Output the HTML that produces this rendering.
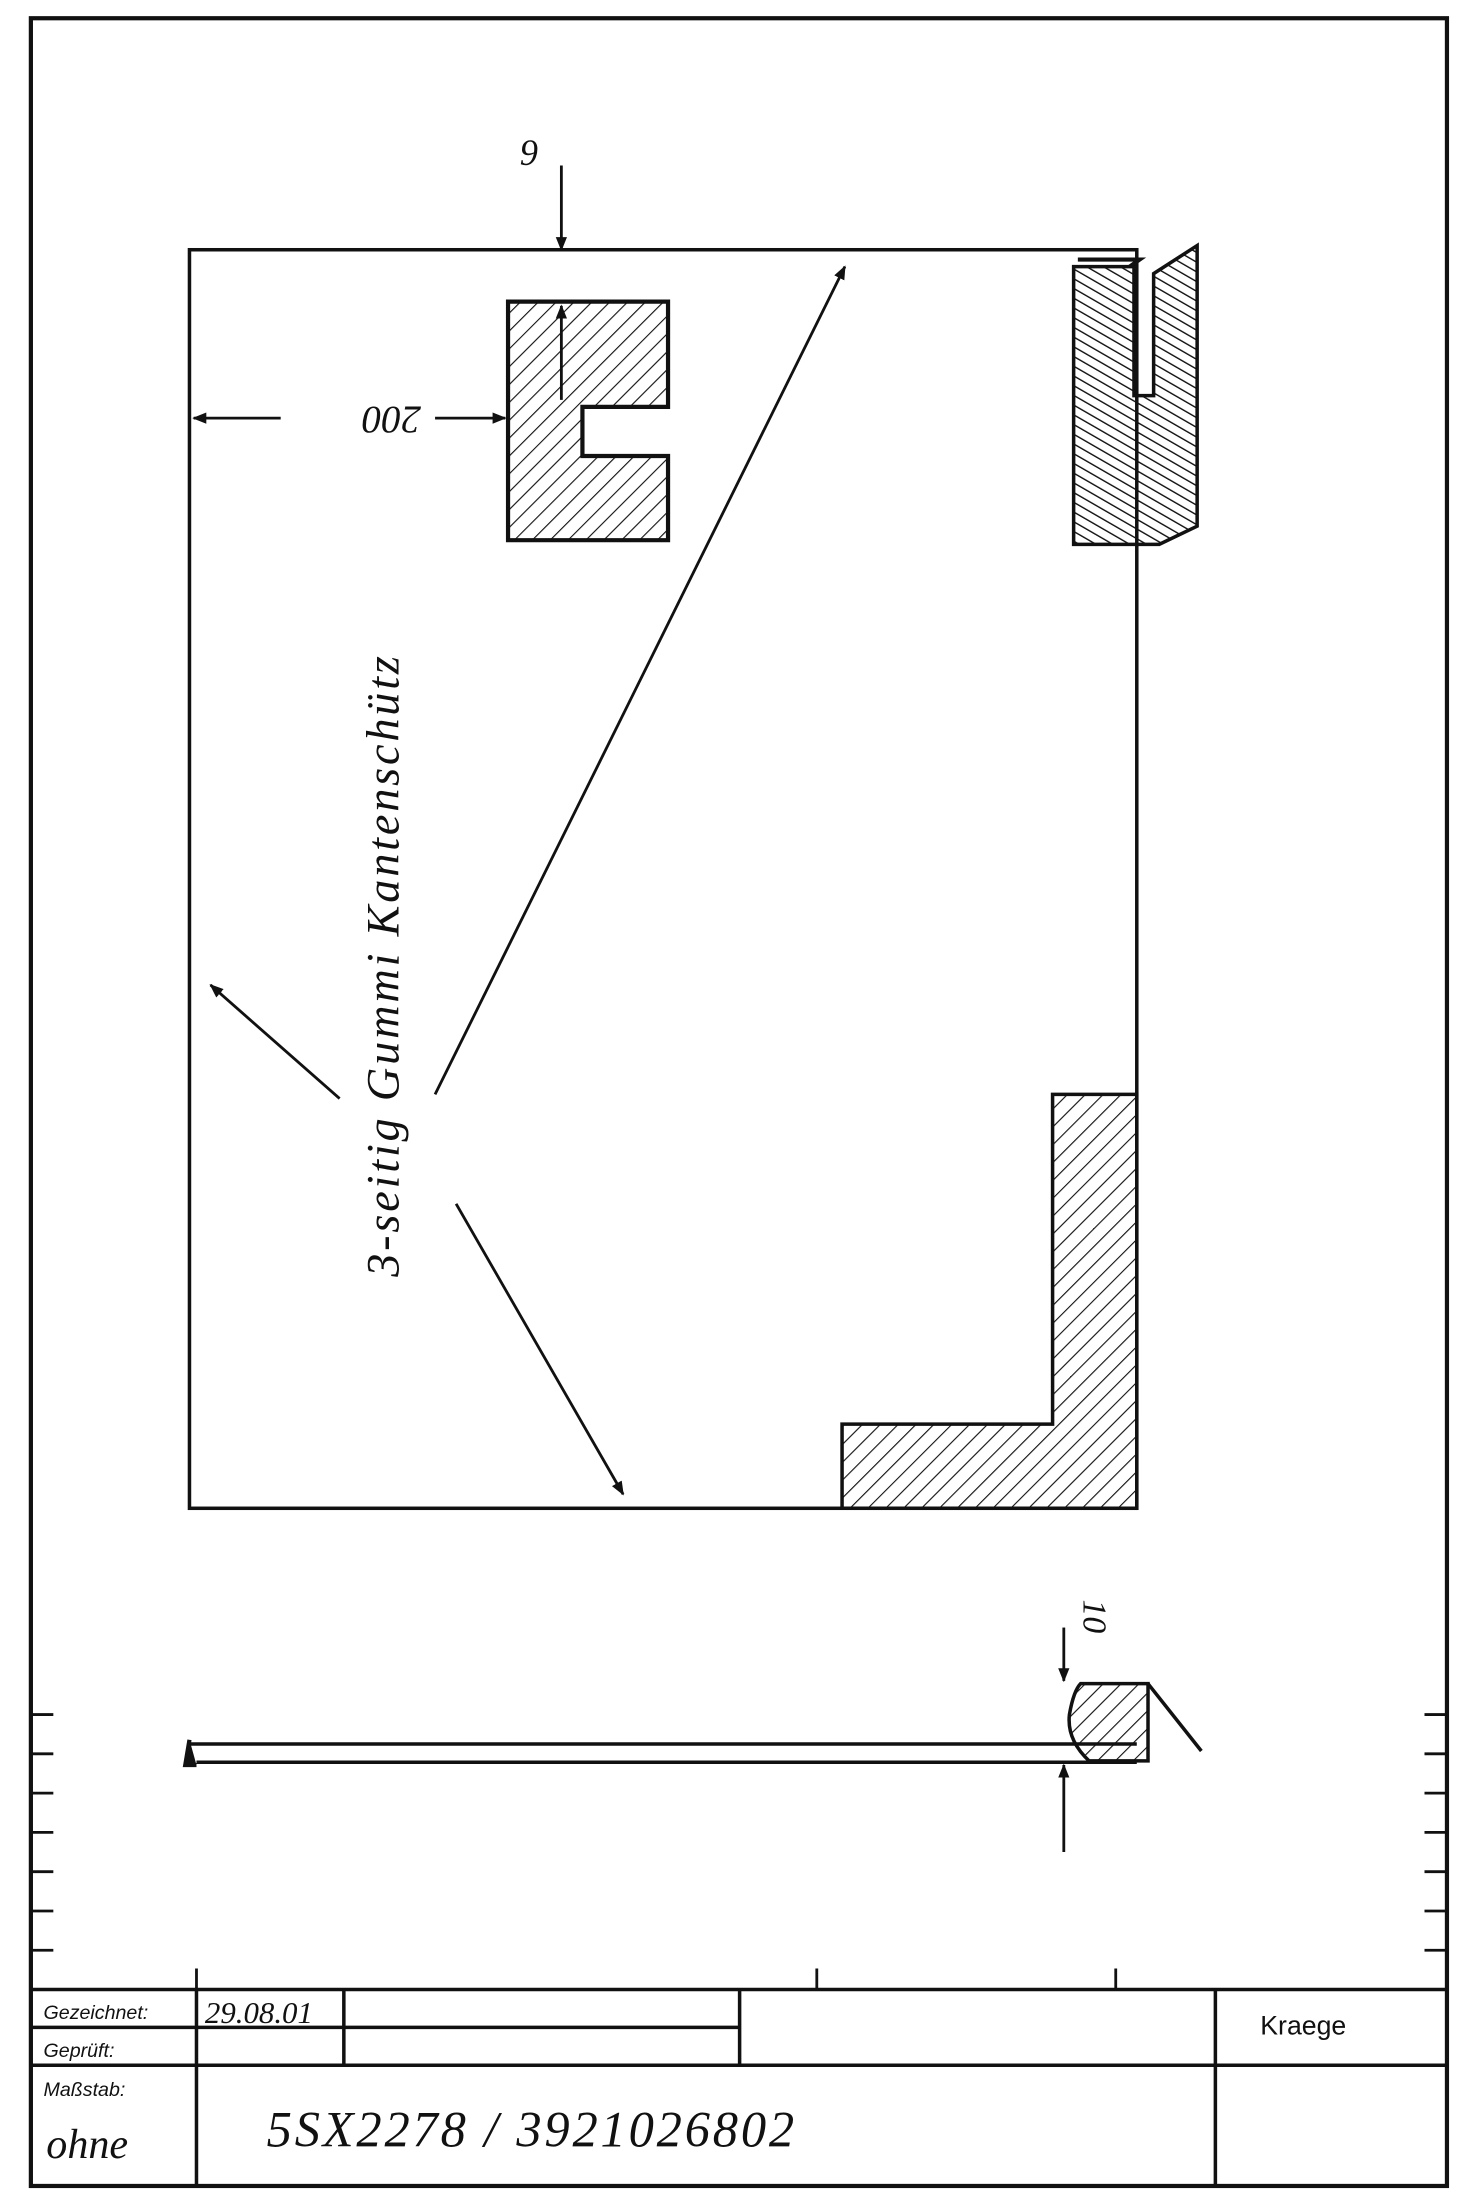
<!DOCTYPE html>
<html><head><meta charset="utf-8"><style>
html,body{margin:0;padding:0;background:#fff;}
svg{display:block;}
text{font-family:"Liberation Sans",sans-serif;fill:#111;}
.h{font-family:"Liberation Serif",serif;font-style:italic;}
</style></head><body>
<svg width="1468" height="2200" viewBox="0 0 1046 1568" preserveAspectRatio="none" xmlns="http://www.w3.org/2000/svg">
<defs>
<pattern id="hat" width="9" height="9" patternUnits="userSpaceOnUse" patternTransform="rotate(45)">
<line x1="0" y1="0" x2="0" y2="9" stroke="#111" stroke-width="1.6"/>
</pattern>
<pattern id="hat2" width="6" height="6" patternUnits="userSpaceOnUse" patternTransform="rotate(-60)">
<line x1="0" y1="0" x2="0" y2="6" stroke="#111" stroke-width="2"/>
</pattern>
<marker id="ar" markerWidth="10" markerHeight="10" refX="9" refY="5" orient="auto" markerUnits="userSpaceOnUse">
<path d="M0,1 L10,5 L0,9 Z" fill="#111"/>
</marker>
</defs>
<rect width="1046" height="1568" fill="#fff"/>
<rect x="22" y="13" width="1009" height="1545" fill="none" stroke="#111" stroke-width="3"/>
<g stroke="#111" stroke-width="2">
<line x1="22" y1="1222" x2="38" y2="1222"/><line x1="22" y1="1250" x2="38" y2="1250"/><line x1="22" y1="1278" x2="38" y2="1278"/><line x1="22" y1="1306" x2="38" y2="1306"/><line x1="22" y1="1334" x2="38" y2="1334"/><line x1="22" y1="1362" x2="38" y2="1362"/><line x1="22" y1="1390" x2="38" y2="1390"/>
<line x1="1015" y1="1222" x2="1031" y2="1222"/><line x1="1015" y1="1250" x2="1031" y2="1250"/><line x1="1015" y1="1278" x2="1031" y2="1278"/><line x1="1015" y1="1306" x2="1031" y2="1306"/><line x1="1015" y1="1334" x2="1031" y2="1334"/><line x1="1015" y1="1362" x2="1031" y2="1362"/><line x1="1015" y1="1390" x2="1031" y2="1390"/>
<line x1="140" y1="1403" x2="140" y2="1418"/><line x1="582" y1="1403" x2="582" y2="1418"/><line x1="795" y1="1403" x2="795" y2="1418"/>
</g>
<g stroke="#111" stroke-width="2.5" fill="none">
<line x1="22" y1="1418" x2="1031" y2="1418"/>
<line x1="22" y1="1472" x2="1031" y2="1472"/>
<line x1="22" y1="1445" x2="527" y2="1445"/>
<line x1="140" y1="1418" x2="140" y2="1558"/>
<line x1="245" y1="1418" x2="245" y2="1472"/>
<line x1="527" y1="1418" x2="527" y2="1472"/>
<line x1="866" y1="1418" x2="866" y2="1558"/>
</g>
<text x="31" y="1439" font-size="14" font-style="italic">Gezeichnet:</text>
<text x="31" y="1466" font-size="14" font-style="italic">Geprüft:</text>
<text x="31" y="1494" font-size="14" font-style="italic">Maßstab:</text>
<text x="898" y="1450" font-size="19">Kraege</text>
<text class="h" x="146" y="1442" font-size="22">29.08.01</text>
<text class="h" x="33" y="1538" font-size="30">ohne</text>
<text class="h" x="190" y="1530" font-size="36" letter-spacing="2">5SX2278 / 3921026802</text>
<rect x="135" y="178" width="675" height="897" fill="none" stroke="#111" stroke-width="2.5"/>
<line x1="400" y1="118" x2="400" y2="178" stroke="#111" stroke-width="2" marker-end="url(#ar)"/>
<text class="h" transform="translate(384,100) rotate(180)" font-size="26">6</text>
<path d="M362,215 H476 V290 H415 V325 H476 V385 H362 Z" fill="url(#hat)" stroke="#111" stroke-width="3"/>
<line x1="400" y1="285" x2="400" y2="218" stroke="#111" stroke-width="2" marker-end="url(#ar)"/>
<line x1="200" y1="298" x2="138" y2="298" stroke="#111" stroke-width="2" marker-end="url(#ar)"/>
<line x1="310" y1="298" x2="360" y2="298" stroke="#111" stroke-width="2" marker-end="url(#ar)"/>
<text class="h" transform="translate(300,290) rotate(180)" font-size="28">200</text>
<path d="M765,190 H808 V282 H822 V195 L853,175 V375 L826,388 H765 Z" fill="url(#hat2)" stroke="#111" stroke-width="2.5"/>
<path d="M768,185 H812 L805,190" fill="none" stroke="#111" stroke-width="3"/>
<path d="M750,780 H810 V1075 H600 V1015 H750 Z" fill="url(#hat)" stroke="#111" stroke-width="2.5"/>
<line x1="310" y1="780" x2="602" y2="190" stroke="#111" stroke-width="2" marker-end="url(#ar)"/>
<line x1="242" y1="783" x2="150" y2="702" stroke="#111" stroke-width="2" marker-end="url(#ar)"/>
<line x1="325" y1="858" x2="444" y2="1065" stroke="#111" stroke-width="2" marker-end="url(#ar)"/>
<text class="h" transform="translate(284,910) rotate(-90)" font-size="33" letter-spacing="2">3-seitig Gummi Kantenschütz</text>
<line x1="135" y1="1243" x2="810" y2="1243" stroke="#111" stroke-width="2.5"/>
<line x1="140" y1="1256" x2="810" y2="1256" stroke="#111" stroke-width="2.5"/>
<path d="M135,1240 L132,1258 L140,1258" fill="#111" stroke="#111" stroke-width="3"/>
<path d="M770,1200 H818 V1255 H776 Q760,1240 762,1222 Q765,1205 770,1200 Z" fill="url(#hat)" stroke="#111" stroke-width="2.5"/>
<line x1="818" y1="1200" x2="856" y2="1248" stroke="#111" stroke-width="2.5"/>
<line x1="758" y1="1160" x2="758" y2="1198" stroke="#111" stroke-width="2" marker-end="url(#ar)"/>
<line x1="758" y1="1320" x2="758" y2="1258" stroke="#111" stroke-width="2" marker-end="url(#ar)"/>
<text class="h" transform="translate(772,1140) rotate(90)" font-size="24">10</text>
</svg>
</body></html>
